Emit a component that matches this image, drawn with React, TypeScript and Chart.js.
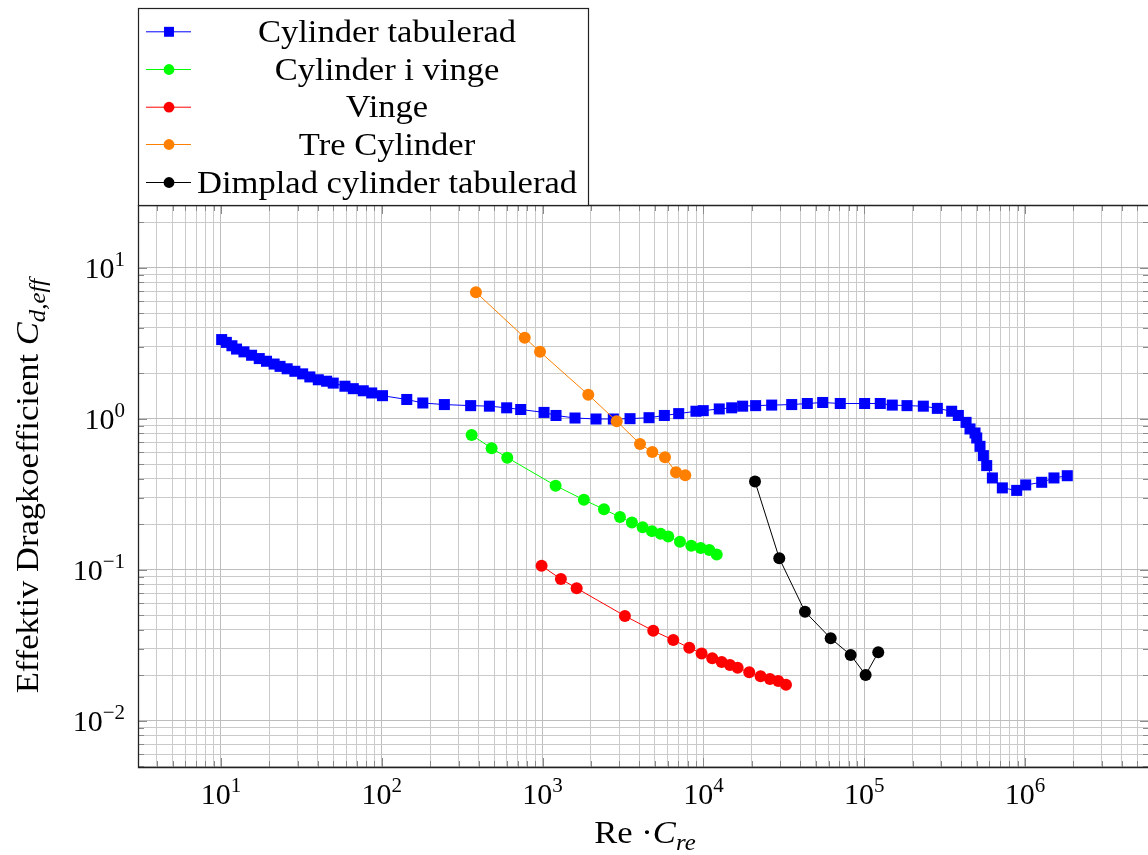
import React, { useEffect, useRef } from "react";
import { Chart, registerables } from "chart.js";
Chart.register(...registerables);

// ---------- data ----------
const cylRe = [10.1, 10.8, 11.7, 12.5, 13.9, 15.5, 17.3, 19.2, 21.4, 23.3, 25.8, 28.8, 32.2, 35.7, 40.3, 45.4, 49.9, 59, 66.5, 76.7, 86.6, 101, 143, 180, 245, 357, 467, 598, 731, 1021, 1212, 1591, 2149, 2754, 3498, 4592, 5718, 7022, 8990, 9980, 12550, 15000, 17540, 21130, 26590, 35420, 44280, 55190, 71000, 100600, 125900, 149500, 184600, 233200, 285000, 350000, 385000, 430000, 455000, 489000, 501000, 525000, 551000, 578000, 627000, 723000, 888000, 1010000, 1270000, 1514000, 1832000];
const cylCd = [3.34, 3.2, 3.04, 2.89, 2.77, 2.63, 2.5, 2.4, 2.3, 2.22, 2.14, 2.06, 1.98, 1.89, 1.81, 1.77, 1.72, 1.64, 1.58, 1.53, 1.48, 1.42, 1.34, 1.27, 1.24, 1.22, 1.21, 1.18, 1.15, 1.1, 1.05, 1.01, 0.995, 0.995, 1.0, 1.015, 1.05, 1.08, 1.12, 1.13, 1.16, 1.18, 1.21, 1.22, 1.23, 1.24, 1.26, 1.28, 1.26, 1.26, 1.26, 1.23, 1.22, 1.21, 1.17, 1.12, 1.05, 0.945, 0.855, 0.804, 0.745, 0.656, 0.569, 0.489, 0.405, 0.348, 0.335, 0.364, 0.379, 0.405, 0.419];

const vinCylRe = [362, 482, 603, 1205, 1807, 2409, 3029, 3594, 4190, 4786, 5420, 6050, 7150, 8410, 9620, 10890, 12100];
const vinCylCd = [0.78, 0.637, 0.552, 0.36, 0.29, 0.251, 0.223, 0.205, 0.191, 0.18, 0.173, 0.166, 0.153, 0.144, 0.139, 0.135, 0.126];

const vingeRe = [986, 1300, 1629, 3250, 4877, 6498, 8170, 9750, 11350, 12990, 14630, 16330, 19280, 22690, 25930, 29220, 32630];
const vingeCd = [0.106, 0.0867, 0.0753, 0.0494, 0.0394, 0.0342, 0.0304, 0.0279, 0.0259, 0.0245, 0.0234, 0.0224, 0.0209, 0.0197, 0.0189, 0.0183, 0.0173];

const treRe = [385, 774, 964, 1924, 2890, 4036, 4814, 5770, 6757, 7716];
const treCd = [6.87, 3.44, 2.77, 1.44, 0.961, 0.68, 0.602, 0.555, 0.441, 0.422];

const dimRe = [20940, 29640, 42840, 61900, 82400, 102100, 122300];
const dimCd = [0.383, 0.119, 0.0527, 0.0351, 0.0272, 0.0201, 0.0284];

const seriesNames = ["Cylinder tabulerad", "Cylinder i vinge", "Vinge", "Tre Cylinder", "Dimplad cylinder tabulerad"];

const xTickExps = [1, 2, 3, 4, 5, 6];
const yTickExps = [1, 0, -1, -2];
const xMin = 3.048, xMax = 5.82e6;
const yMin = 4.935e-3, yMax = 26.0;

// ---------- styling ----------
const W = 1148, H = 855;
const PLOT_LEFT = 138, PLOT_TOP = 205, PLOT_BOTTOM = 767;
const FAM = "'Liberation Serif', 'DejaVu Serif', serif";
const colors = ["#0000ff", "#00ff00", "#ff0000", "#ff8000", "#000000"];
const styles = ["rect", "circle", "circle", "circle", "circle"];
const radii = [7.8, 6, 6, 6, 6];
const TEXT_STRETCH = 1.08;

function zip(xs: number[], ys: number[]) {
  return xs.map((x, i) => ({ x, y: ys[i] }));
}
const allData = [zip(cylRe, cylCd), zip(vinCylRe, vinCylCd), zip(vingeRe, vingeCd), zip(treRe, treCd), zip(dimRe, dimCd)];

function logTicks(min: number, max: number) {
  const t: { value: number }[] = [];
  for (let e = Math.floor(Math.log10(min)) - 1; e <= Math.ceil(Math.log10(max)); e++) {
    for (let m = 1; m < 10; m++) {
      const v = m * Math.pow(10, e);
      if (v > min && v < max) t.push({ value: v });
    }
  }
  return t;
}
function isMajor(v: number) {
  const l = Math.log10(v);
  return Math.abs(l - Math.round(l)) < 1e-9;
}

type Seg = { t: string; font: string; dy: number };
function segWidth(ctx: CanvasRenderingContext2D, segs: Seg[]) {
  let w = 0;
  for (const s of segs) { ctx.font = s.font; w += ctx.measureText(s.t).width; }
  return w;
}
function drawSegs(ctx: CanvasRenderingContext2D, segs: Seg[], x: number, y: number) {
  let cx = x;
  for (const s of segs) { ctx.font = s.font; ctx.fillText(s.t, cx, y + s.dy); cx += ctx.measureText(s.t).width; }
}
// draw segments centred at (cx, y) with horizontal stretch
function drawSegsCentered(ctx: CanvasRenderingContext2D, segs: Seg[], cx: number, y: number, k: number) {
  const w = segWidth(ctx, segs);
  ctx.save();
  ctx.translate(cx, y);
  ctx.scale(k, 1);
  drawSegs(ctx, segs, -w / 2, 0);
  ctx.restore();
}
function expLabel(e: number): Seg[] {
  const es = e < 0 ? "\u2212" + Math.abs(e) : String(e);
  return [
    { t: "10", font: `30px ${FAM}`, dy: 0 },
    { t: es, font: `21px ${FAM}`, dy: -12 },
  ];
}

function drawMarker(ctx: CanvasRenderingContext2D, style: string, x: number, y: number, r: number, color: string) {
  ctx.fillStyle = color;
  if (style === "rect") {
    const s = r / Math.SQRT2;
    ctx.fillRect(x - s, y - s, 2 * s, 2 * s);
  } else {
    ctx.beginPath(); ctx.arc(x, y, r, 0, Math.PI * 2); ctx.fill();
  }
}

const overlay = {
  id: "overlay",
  beforeDatasetsDraw(chart: any) {
    const ctx: CanvasRenderingContext2D = chart.ctx;
    const { left, right, top, bottom } = chart.chartArea;
    const xs = chart.scales.x, ys = chart.scales.y;
    ctx.save();
    ctx.strokeStyle = "#8a8a8a";
    ctx.lineWidth = 1;
    ctx.beginPath();
    xs.ticks.forEach((t: any) => {
      const px = Math.round(xs.getPixelForValue(t.value)) + 0.5;
      const len = isMajor(t.value) ? 9 : 6;
      ctx.moveTo(px, bottom); ctx.lineTo(px, bottom - len);
      ctx.moveTo(px, top); ctx.lineTo(px, top + len);
    });
    ys.ticks.forEach((t: any) => {
      const py = Math.round(ys.getPixelForValue(t.value)) + 0.5;
      const len = isMajor(t.value) ? 9 : 6;
      ctx.moveTo(left, py); ctx.lineTo(left + len, py);
      ctx.moveTo(right + 1, py); ctx.lineTo(right + 1 - len, py);
    });
    ctx.stroke();
    ctx.restore();
  },
  afterDraw(chart: any) {
    const ctx: CanvasRenderingContext2D = chart.ctx;
    const { left, right, top, bottom } = chart.chartArea;
    const xs = chart.scales.x, ys = chart.scales.y;
    ctx.save();
    // frame
    ctx.strokeStyle = "#222";
    ctx.lineWidth = 1.3;
    ctx.beginPath();
    ctx.moveTo(right + 2, top + 0.5); ctx.lineTo(left + 0.5, top + 0.5); ctx.lineTo(left + 0.5, bottom + 0.5); ctx.lineTo(right + 2, bottom + 0.5);
    ctx.stroke();

    ctx.fillStyle = "#000";
    ctx.textBaseline = "alphabetic";
    ctx.textAlign = "left";
    // x tick labels
    xTickExps.forEach((e) => {
      const px = xs.getPixelForValue(Math.pow(10, e));
      const segs = expLabel(e);
      const w = segWidth(ctx, segs);
      drawSegs(ctx, segs, px - w / 2, 804);
    });
    // y tick labels
    yTickExps.forEach((e) => {
      const py = ys.getPixelForValue(Math.pow(10, e));
      const segs = expLabel(e);
      const w = segWidth(ctx, segs);
      drawSegs(ctx, segs, 125 - w, py + 10);
    });

    // x title
    const xt: Seg[] = [
      { t: "Re \u00B7", font: `32px ${FAM}`, dy: 0 },
      { t: "C", font: `italic 32px ${FAM}`, dy: 0 },
      { t: "re", font: `italic 23px ${FAM}`, dy: 7 },
    ];
    drawSegsCentered(ctx, xt, 645, 843, TEXT_STRETCH);

    // y title
    const yt: Seg[] = [
      { t: "Effektiv Dragkoefficient ", font: `32px ${FAM}`, dy: 0 },
      { t: "C", font: `italic 32px ${FAM}`, dy: 0 },
      { t: "d,eff", font: `italic 23px ${FAM}`, dy: 7 },
    ];
    ctx.save();
    ctx.translate(27, (top + bottom) / 2);
    ctx.rotate(-Math.PI / 2);
    drawSegsCentered(ctx, yt, 0, 10.5, TEXT_STRETCH);
    ctx.restore();

    // legend
    const lx = 138.5, ly = 8.5, lw = 450, lh = 197;
    ctx.fillStyle = "#fff";
    ctx.fillRect(lx, ly, lw, lh);
    ctx.strokeStyle = "#222";
    ctx.lineWidth = 1.2;
    ctx.strokeRect(lx, ly, lw, lh);
    const rows = [31.3, 69, 106.7, 144, 182];
    seriesNames.forEach((name, i) => {
      const ry = rows[i];
      ctx.strokeStyle = colors[i];
      ctx.lineWidth = 1;
      ctx.beginPath(); ctx.moveTo(146, ry + 0.5); ctx.lineTo(191, ry + 0.5); ctx.stroke();
      drawMarker(ctx, styles[i], 169, ry + 0.5, radii[i] * 0.9, colors[i]);
      ctx.fillStyle = "#000";
      drawSegsCentered(ctx, [{ t: name, font: `32px ${FAM}`, dy: 0 }], 387, ry + 10.5, TEXT_STRETCH);
    });
    ctx.restore();
  },
};

export default function App() {
  const ref = useRef<HTMLCanvasElement | null>(null);
  useEffect(() => {
    if (!ref.current) return;
    const datasets = allData.map((d, i) => ({
      label: seriesNames[i],
      data: d,
      showLine: true,
      borderColor: colors[i],
      backgroundColor: colors[i],
      borderWidth: 1,
      pointStyle: styles[i],
      pointRadius: radii[i],
      pointHoverRadius: radii[i],
      pointBorderWidth: 0,
      order: 5 - i,
    }));
    const gridColor = (c: any) => (c.tick && isMajor(c.tick.value) ? "#bdbdbd" : "#cacaca");
    const chart = new Chart(ref.current, {
      type: "scatter",
      data: { datasets: datasets as any },
      options: {
        animation: false,
        responsive: false,
        events: [],
        layout: { autoPadding: false, padding: { left: 0, top: PLOT_TOP, right: 0, bottom: 0 } },
        plugins: { legend: { display: false }, tooltip: { enabled: false }, title: { display: false } },
        scales: {
          x: {
            type: "logarithmic",
            min: xMin,
            max: xMax,
            afterBuildTicks: (s: any) => { s.ticks = logTicks(xMin, xMax); },
            ticks: { display: false },
            grid: { color: gridColor, lineWidth: 1, drawTicks: false },
            border: { display: false },
            afterFit: (s: any) => {
              s.height = H - PLOT_BOTTOM;
              s.paddingLeft = 0; s.paddingRight = 0; s.paddingTop = 0; s.paddingBottom = 0;
            },
          },
          y: {
            type: "logarithmic",
            min: yMin,
            max: yMax,
            afterBuildTicks: (s: any) => { s.ticks = logTicks(yMin, yMax); },
            ticks: { display: false },
            grid: { color: gridColor, lineWidth: 1, drawTicks: false },
            border: { display: false },
            afterFit: (s: any) => {
              s.width = PLOT_LEFT;
              s.paddingLeft = 0; s.paddingRight = 0; s.paddingTop = 0; s.paddingBottom = 0;
            },
          },
        },
      } as any,
      plugins: [overlay as any],
    });
    return () => chart.destroy();
  }, []);
  return (
    <div style={{ position: "absolute", left: 0, top: 0, width: W, height: H, background: "#fff" }}>
      <canvas ref={ref} width={W} height={H} style={{ display: "block", width: W, height: H }} />
    </div>
  );
}
